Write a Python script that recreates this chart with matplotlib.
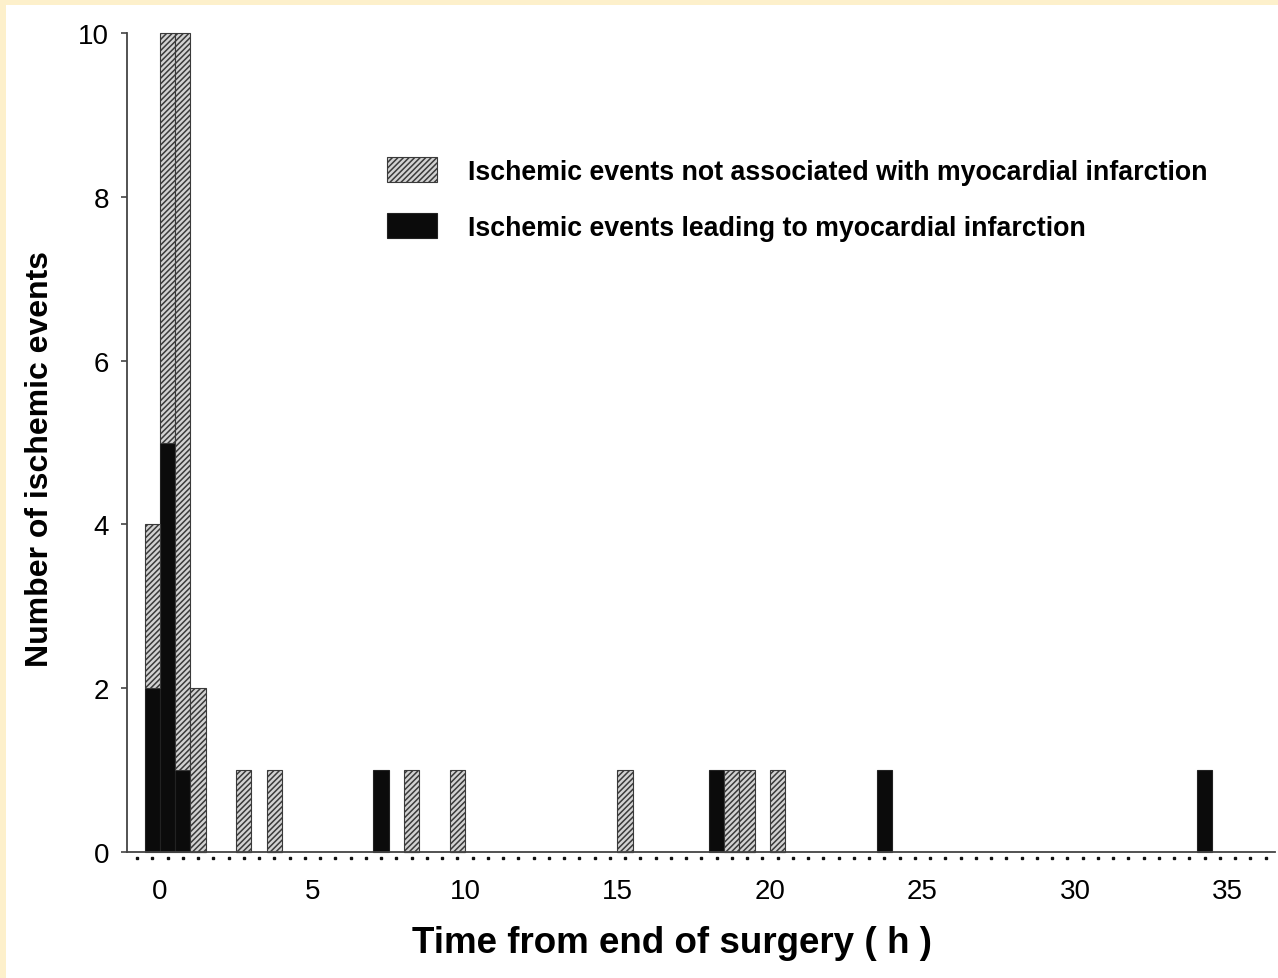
import numpy as np
import matplotlib
matplotlib.use("Agg")
from matplotlib import pyplot as plt
from matplotlib import patches

# half-hour bins, centre of each bin (h after end of surgery)
bin_centres = [-0.25, 0.25, 0.75, 1.25, 2.75, 3.75, 7.25, 8.25, 9.75,
               15.25, 18.25, 18.75, 19.25, 20.25, 23.75, 34.25]
mi_events = [2, 5, 1, 0, 0, 0, 1, 0, 0, 0, 1, 0, 0, 0, 1, 1]
non_mi_events = [2, 5, 9, 2, 1, 1, 0, 1, 1, 1, 0, 1, 1, 1, 0, 0]

x_tick_values = [0, 5, 10, 15, 20, 25, 30, 35]
y_tick_values = [0, 2, 4, 6, 8, 10]

label_hatched = "Ischemic events not associated with myocardial infarction"
label_black = "Ischemic events leading to myocardial infarction"

plt.rcParams["font.family"] = ["Liberation Sans", "DejaVu Sans"]
plt.rcParams["hatch.linewidth"] = 1.1
plt.rcParams["hatch.color"] = "#4a4a4a"

W, H = 1278, 979
fig = plt.figure(figsize=(W / 100, H / 100), dpi=100)
fig.patch.set_facecolor("white")

# cream frame on the top and left edge of the scan
fig.patches.append(patches.Rectangle((0, 1 - 6 / H), 1, 6 / H, transform=fig.transFigure,
                                     facecolor="#fdf0cb", edgecolor="none"))
fig.patches.append(patches.Rectangle((0, 0), 6 / W, 1, transform=fig.transFigure,
                                     facecolor="#fdf0cb", edgecolor="none"))

ax = fig.add_axes([127 / W, 1 - 853 / H, (1275 - 127) / W, (853 - 34) / H])

bar_width = 0.5
mi = np.array(mi_events)
non_mi = np.array(non_mi_events)
x = np.array(bin_centres)

ax.bar(x, mi, width=bar_width, color="#0b0b0b", edgecolor="#222222", linewidth=0.8,
       label=label_black, zorder=2, clip_on=False)
keep = non_mi > 0
ax.bar(x[keep], non_mi[keep], bottom=mi[keep], width=bar_width, color="#d2d2d2",
       edgecolor="#3a3a3a", linewidth=0.8, hatch="//////", label=label_hatched,
       zorder=2, clip_on=False)

ax.set_xlim(-1.08, 36.56)
ax.set_ylim(0, 10)

for side in ["top", "right"]:
    ax.spines[side].set_visible(False)
ax.spines["left"].set_color("#444444")
ax.spines["bottom"].set_color("#444444")
ax.spines["left"].set_linewidth(1.3)
ax.spines["bottom"].set_linewidth(1.3)

ax.set_yticks(y_tick_values)
ax.set_xticks(x_tick_values)
ax.tick_params(axis="y", length=4, width=1.2, color="#444444", labelsize=20, pad=9)
ax.tick_params(axis="x", length=0, labelsize=20, pad=19)

# little square dots under the time axis, one per half-hour bin
dots = np.arange(-0.75, 36.3, 0.5)
ax.plot(dots, np.full(dots.shape, -0.075), linestyle="none", marker="s", markersize=2.0,
        color="#111111", clip_on=False)

ax.set_xlabel("Time from end of surgery ( h )", fontsize=26.5, fontweight="bold",
              va="center", ha="center")
ax.xaxis.set_label_coords(0.475, -0.11)
ax.set_ylabel("Number of ischemic events", fontsize=23, fontweight="bold",
              va="center", ha="center")
ax.yaxis.set_label_coords(-0.0758, 0.481)

handles, labels = ax.get_legend_handles_labels()
fs = 19.3
px = fs * 100 / 72
ax.legend(handles[::-1], labels[::-1], loc="upper left",
          bbox_to_anchor=(387 / W, 1 - 158 / H), bbox_transform=fig.transFigure,
          frameon=False, prop={"weight": "bold", "size": fs},
          handlelength=50 / px, handleheight=29 / px, handletextpad=31 / px,
          labelspacing=28 / px, borderpad=0, borderaxespad=0)

fig.savefig("out.png", dpi=100)
